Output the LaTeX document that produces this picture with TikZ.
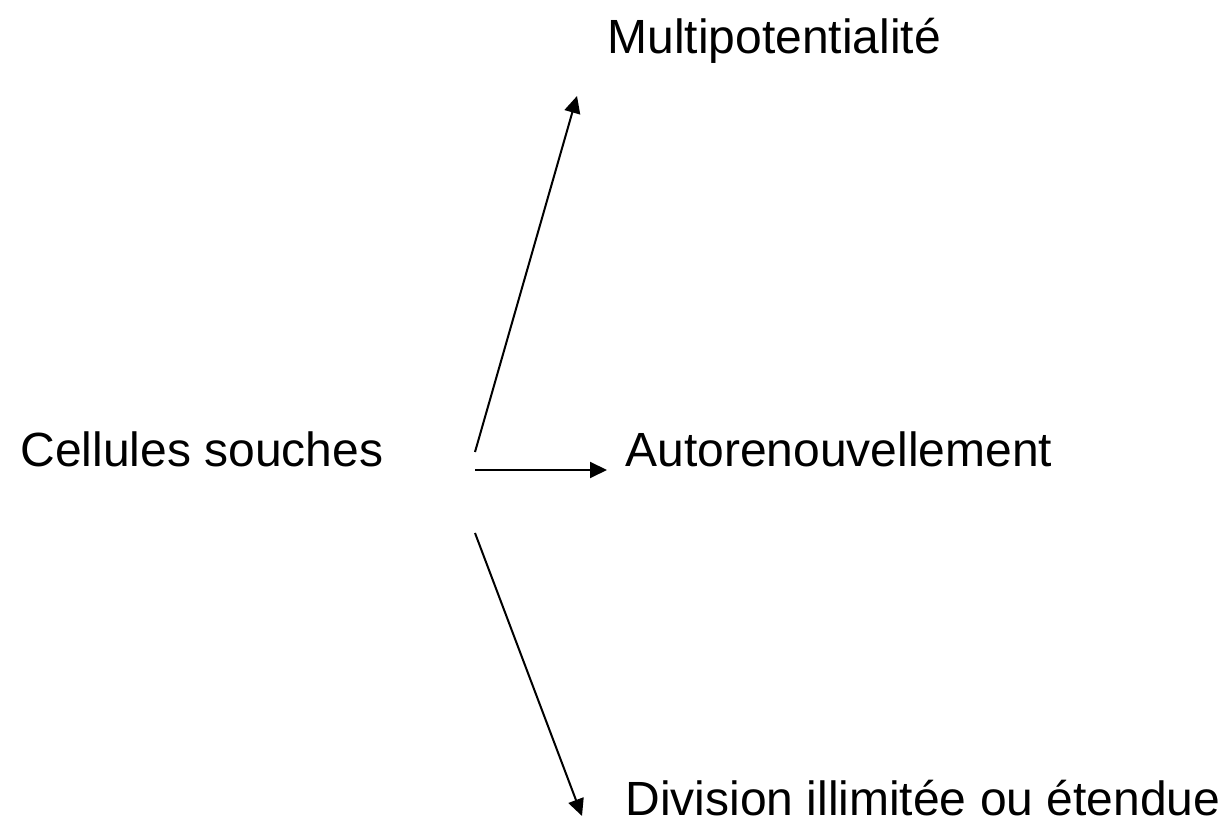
\documentclass[tikz,border=0pt]{standalone}
\usepackage{fontspec}
\setmainfont{Liberation Sans}
\usetikzlibrary{arrows.meta}
\begin{document}
\begin{tikzpicture}[x=0.5pt,y=-0.5pt]
\tikzset{
  label/.style={anchor=base west,inner sep=0pt,font=\fontsize{24}{29}\selectfont},
  fleche/.style={line width=1pt,-{Triangle[length=8.5pt,width=8pt]}}
}
\useasboundingbox (0,0) rectangle (1223,822);
\node[label] (cellules) at (20,467) {Cellules souches};
\node[label] (multi) at (607,54) {Multipotentialité};
\node[label] (auto) at (625,467) {Autorenouvellement};
\node[label] (division) at (625,816) {Division illimitée ou étendue};
% departs et arrivees des fleches
\coordinate (d1) at (475,452);
\coordinate (a1) at (577,96);
\coordinate (d2) at (475,470);
\coordinate (a2) at (607,470);
\coordinate (d3) at (475,533);
\coordinate (a3) at (582,816);
\draw[fleche] (d1) -- (a1);
\draw[fleche] (d2) -- (a2);
\draw[fleche] (d3) -- (a3);
\end{tikzpicture}
\end{document}
